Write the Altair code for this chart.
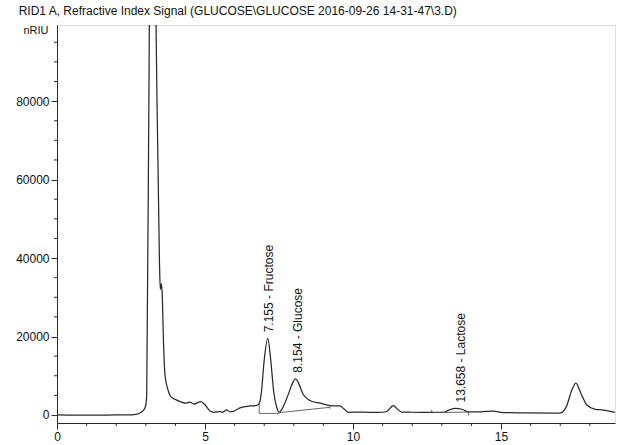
import altair as alt
import pandas as pd

title_text = "RID1 A, Refractive Index Signal (GLUCOSE\\GLUCOSE 2016-09-26 14-31-47\\3.D)"

# retention time (min) and signal (nRIU)
time = [0.0, 1.0, 2.0, 2.5, 2.7, 2.86, 2.95, 3.0, 3.03, 3.12, 3.23, 3.345,
        3.46, 3.49, 3.52, 3.55, 3.60, 3.65, 3.75, 3.85, 4.04, 4.2, 4.35, 4.49,
        4.62, 4.86, 5.0, 5.17, 5.3, 5.5, 5.6, 5.73, 5.85, 5.95, 6.18, 6.52,
        6.7, 6.8, 6.84, 6.9, 7.0, 7.12, 7.22, 7.32, 7.42, 7.51, 7.6, 7.8,
        7.95, 8.06, 8.18, 8.3, 8.43, 8.6, 8.89, 9.22, 9.56, 9.7, 9.84, 10.24,
        10.6, 11.0, 11.14, 11.36, 11.5, 11.64, 12.0, 12.6, 13.05, 13.25, 13.45,
        13.7, 13.9, 14.3, 14.74, 15.07, 16.0, 16.99, 17.2, 17.4, 17.53, 17.7,
        17.9, 18.18, 18.45, 18.85]
signal = [0, -50, 0, 50, 200, 850, 1500, 2500, 5000, 99400, 160000, 99400,
          39500, 32000, 33500, 31500, 18000, 10000, 6400, 4600, 3800, 3300, 3000, 3300,
          2800, 3400, 2600, 1000, 700, 850, 700, 1300, 800, 900, 1800, 2300,
          2400, 2700, 3050, 5500, 14000, 19500, 14000, 6000, 2000, 700, 1500, 5000,
          8000, 9200, 7800, 5500, 4300, 3500, 3000, 2400, 2300, 1500, 700, 760,
          650, 700, 900, 2400, 1500, 760, 700, 650, 650, 1300, 1700,
          1400, 800, 800, 1000, 600, 550, 500, 2000, 6500, 8100, 5500,
          2550, 1450, 1270, 680]

# peak annotations
peak_rt = [7.155, 8.154, 13.658]
peak_height = [19800, 9500, 1900]
peak_text = ["7.155 - Fructose", "8.154 - Glucose", "13.658 - Lactose"]

# integration baseline segments
seg_x = [6.83, 6.83, 7.51, 9.22, 12.66, 12.66, 13.9]
seg_y = [3050, 400, 600, 1600, 600, 1300, 900]
seg_x2 = [6.83, 7.51, 9.22, 9.22, 13.9, 12.66, 13.9]
seg_y2 = [400, 400, 1960, 2600, 750, 600, -100]

x_major = [0, 5, 10, 15]
x_minor = [v for v in range(0, 19) if v % 5 != 0]
y_major = [0, 20000, 40000, 60000, 80000]
y_minor = [v for v in range(0, 100000, 5000) if v % 20000 != 0]

trace = pd.DataFrame({"t": time, "v": signal})
labels = pd.DataFrame({"t": peak_rt, "v": peak_height, "txt": peak_text})
segs = pd.DataFrame({"x": seg_x, "y": seg_y, "x2": seg_x2, "y2": seg_y2})
xmin_df = pd.DataFrame({"t": x_minor})
ymin_df = pd.DataFrame({"v": y_minor})

PLOT_W, PLOT_H = 558, 398
xs = alt.Scale(domain=[0, 18.85], nice=False, zero=False)
ys = alt.Scale(domain=[-2040, 99400], nice=False, zero=False)

ink = "#2a2a2a"

x_axis = alt.Axis(
    values=x_major, title=None, grid=False, labelOverlap=False, tickSize=6,
    labelFontSize=12, labelFont="Liberation Sans", labelColor="#111",
    domainColor=ink, tickColor=ink, labelPadding=2, labelFlush=False,
)
y_axis = alt.Axis(
    values=y_major, format="d", grid=False, labelOverlap=False, tickSize=6,
    labelFontSize=12, labelFont="Liberation Sans", labelColor="#111",
    domainColor=ink, tickColor=ink, labelPadding=2,
    title="nRIU", titleAngle=0, titleAlign="right", titleBaseline="middle",
    titleX=-9, titleY=5, titleFontSize=11, titleFontWeight="normal",
    titleFont="Liberation Sans", titleColor="#111",
)

line = alt.Chart(trace).mark_line(
    clip=True, color=ink, strokeWidth=1.25, interpolate="monotone"
).encode(
    x=alt.X("t:Q", scale=xs, axis=x_axis),
    y=alt.Y("v:Q", scale=ys, axis=y_axis),
)

x_minor_ticks = alt.Chart(xmin_df).mark_rule(color=ink, strokeWidth=1).encode(
    x=alt.X("t:Q", scale=xs),
    y=alt.value(PLOT_H),
    y2=alt.value(PLOT_H + 3),
)
y_minor_ticks = alt.Chart(ymin_df).mark_rule(color=ink, strokeWidth=1).encode(
    y=alt.Y("v:Q", scale=ys),
    x=alt.value(0),
    x2=alt.value(-3),
)

base_lines = alt.Chart(segs).mark_rule(color="#555", strokeWidth=0.9).encode(
    x=alt.X("x:Q", scale=xs),
    y=alt.Y("y:Q", scale=ys),
    x2="x2:Q",
    y2="y2:Q",
)

text = alt.Chart(labels).mark_text(
    angle=270, align="left", baseline="middle", dx=5,
    fontSize=12, font="Liberation Sans", color="#111",
).encode(
    x=alt.X("t:Q", scale=xs),
    y=alt.Y("v:Q", scale=ys),
    text="txt:N",
)

chart = alt.layer(line, x_minor_ticks, y_minor_ticks, base_lines, text).properties(
    width=PLOT_W, height=PLOT_H,
    autosize=alt.AutoSizeParams(type="none"),
    padding={"left": 57, "top": 25, "right": 5, "bottom": 22},
    title=alt.TitleParams(
        text=title_text, anchor="start", fontSize=12, fontWeight="normal",
        font="Liberation Sans", color="#111", offset=6, dx=3,
    ),
).configure_view(stroke=None).configure(background="white")

chart.save("out.html", embed_options={"renderer": "svg", "actions": False})
